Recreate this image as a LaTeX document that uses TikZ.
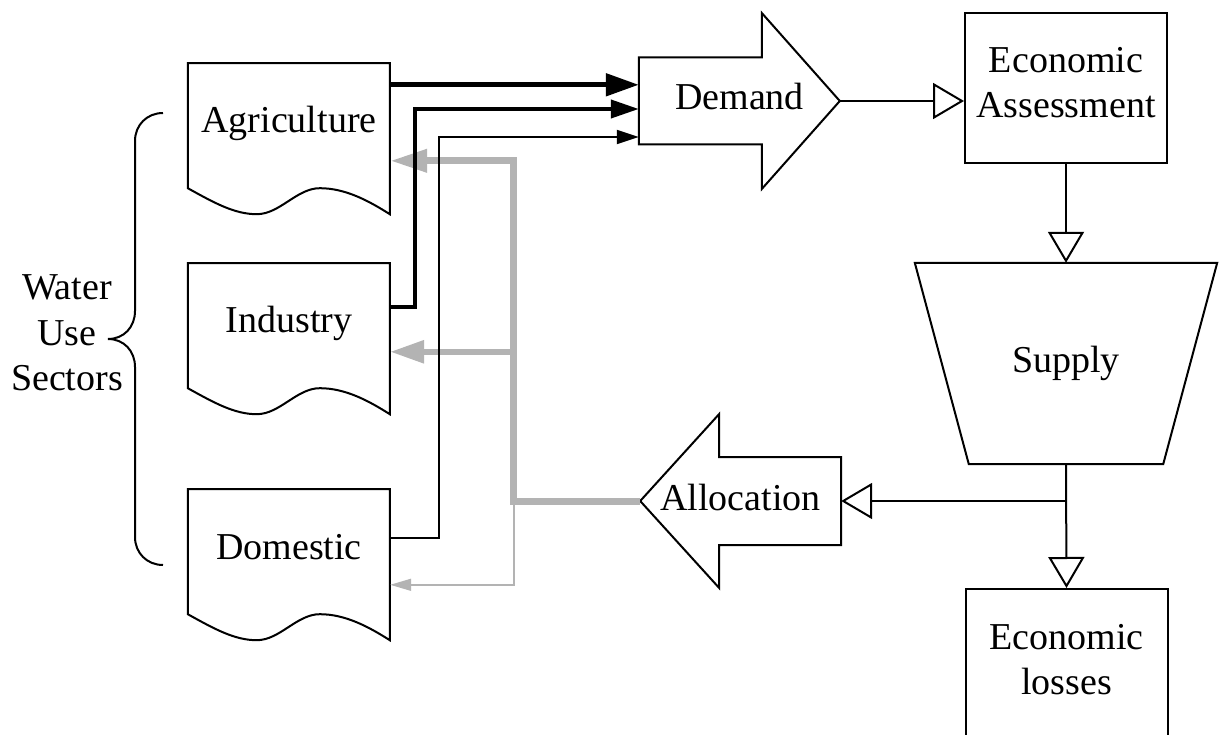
\documentclass[tikz,border=0pt]{standalone}
\usepackage{fontspec}
\setmainfont{Liberation Serif}
\usetikzlibrary{arrows.meta,calc}
\definecolor{flowgray}{HTML}{B3B3B3}
\tikzset{
  outline/.style={draw=black, line width=2pt, line join=miter},
  docnode/.style={minimum width=202pt, minimum height=151pt, inner sep=0pt, text height=26pt, text depth=37pt},
  bignode/.style={inner sep=0pt, text height=26pt, text depth=8pt},
  boxnode/.style={draw=black, line width=2pt, minimum width=202pt, minimum height=150pt, inner sep=0pt},
  txtnode/.style={inner sep=0pt, align=center},
  openarrow/.style={line width=2pt, -{Triangle[open, length=31pt, width=36pt]}},
  blackflow/.style={draw=black},
  grayflow/.style={draw=flowgray},
}
\begin{document}
\begin{tikzpicture}[x=1pt, y=-1pt, font=\fontsize{38}{45.6}\selectfont]
\useasboundingbox (0,0) rectangle (1219,735);

% nodes
\node[docnode] (agri) at (289,138.5) {Agriculture};
\node[docnode] (ind) at (289,338.5) {Industry};
\node[docnode] (dom) at (289,564.5) {Domestic};
\node[bignode, minimum width=201pt, minimum height=176pt] (demand) at (739.5,101) {Demand};
\node[bignode, minimum width=201pt, minimum height=174pt] (alloc) at (740.5,501) {Allocation};
\node[bignode, minimum width=302pt, minimum height=201pt] (supply) at (1066,363.5) {Supply};
\node[boxnode] (ea) at (1066,88) {};
\node[boxnode] (loss) at (1066.5,664) {};
\node[txtnode] (eatext) at (1066,82.5) {Economic\\Assessment};
\node[txtnode] (losstext) at (1066.5,659.5) {Economic\\losses};
\node[txtnode] (sectors) at (67,333) {Water\\Use\\Sectors};

% document outlines
\foreach \d in {agri,ind,dom}{
  \draw[outline, shift={(\d.south west)}] (0,-26) .. controls (27,-11) and (47,0) .. (69,0)
    .. controls (92,0) and (109,-26) .. (132,-26)
    .. controls (157,-26) and (180,-14) .. (202,0) -- (202,-151) -- (0,-151) -- cycle;
}
% demand arrow outline
\draw[outline, shift={(demand.west)}] (0,-43.5) -- (123,-43.5) -- (123,-88) -- (201,0) -- (123,88) -- (123,43.5) -- (0,43.5) -- cycle;
% allocation arrow outline
\draw[outline, shift={(alloc.east)}] (0,-44) -- (-122,-44) -- (-122,-87) -- (-201,0) -- (-122,87) -- (-122,44) -- (0,44) -- cycle;
% supply trapezoid
\draw[outline] (supply.north west) -- (supply.north east) -- ([xshift=-54pt]supply.south east) -- ([xshift=54pt]supply.south west) -- cycle;

% brace
\draw[line width=2pt] (163,113) .. controls (147,113) and (135,125) .. (135,141) -- (135,311)
  .. controls (135,327) and (124,339) .. (108,339)
  .. controls (124,339) and (135,351) .. (135,367) -- (135,537)
  .. controls (135,553) and (147,565) .. (163,565);

% gray allocation flows
\coordinate (g0) at ([yshift=-98pt]agri.north east);
\coordinate (g1) at ([yshift=-89pt]ind.north east);
\coordinate (g2) at ([yshift=-96pt]dom.north east);
\draw[grayflow, line width=1.5pt, -{Triangle[length=21pt,width=12pt]}] (alloc.west) -- ++(-126,0) |- (g2);
\draw[grayflow, line width=6pt, -{Triangle[length=34pt,width=22pt]}] (alloc.west) -- ++(-126,0) |- (g1);
\draw[grayflow, line width=7pt, -{Triangle[length=37pt,width=22pt]}] (alloc.west) -- ++(-126,0) |- (g0);

% black demand flows
\coordinate (a0) at ([yshift=-22pt]agri.north east);
\coordinate (b0) at ([yshift=-44pt]ind.north east);
\coordinate (b1) at ([yshift=-8pt]demand.west);
\coordinate (c0) at ([yshift=-49pt]dom.north east);
\coordinate (c1) at ([yshift=-36pt]demand.west);
\draw[blackflow, line width=5pt, -{Triangle[length=33pt,width=22pt]}] (a0) -- (a0 -| demand.west);
\draw[blackflow, line width=4pt, -{Triangle[length=28pt,width=18pt]}] (b0) -- ++(25,0) |- (b1);
\draw[blackflow, line width=2pt, -{Triangle[length=22pt,width=14pt]}] (c0) -- ++(49,0) |- (c1);

% process connectors
\draw[openarrow] (demand.east) -- (demand.east -| ea.west);
\draw[openarrow] (ea.south) -- (supply.north);
\draw[openarrow] (supply.south) -- (loss.north);
\draw[openarrow] (supply.south) |- (alloc.east);
\end{tikzpicture}
\end{document}
